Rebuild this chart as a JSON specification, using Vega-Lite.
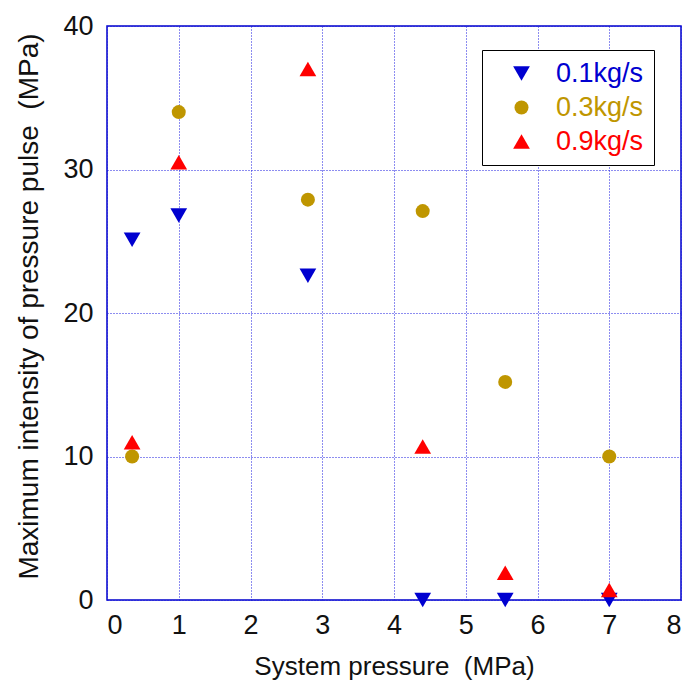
{
  "$schema": "https://vega.github.io/schema/vega-lite/v6.json",
  "width": 574,
  "height": 574,
  "padding": {"left": 107, "top": 26, "right": 10, "bottom": 87},
  "autosize": {"type": "none"},
  "background": "white",
  "config": {
    "view": {"stroke": "#0000cc", "strokeWidth": 1.5}
  },
  "data": {
    "values": [
      {"p": 0.35, "v": 25.1, "s": "0.1kg/s"},
      {"p": 1.0, "v": 26.8, "s": "0.1kg/s"},
      {"p": 2.8, "v": 22.6, "s": "0.1kg/s"},
      {"p": 4.4, "v": 0.0, "s": "0.1kg/s"},
      {"p": 5.55, "v": 0.0, "s": "0.1kg/s"},
      {"p": 7.0, "v": 0.0, "s": "0.1kg/s"},
      {"p": 0.35, "v": 10.0, "s": "0.3kg/s"},
      {"p": 1.0, "v": 34.0, "s": "0.3kg/s"},
      {"p": 2.8, "v": 27.9, "s": "0.3kg/s"},
      {"p": 4.4, "v": 27.1, "s": "0.3kg/s"},
      {"p": 5.55, "v": 15.2, "s": "0.3kg/s"},
      {"p": 7.0, "v": 10.0, "s": "0.3kg/s"},
      {"p": 0.35, "v": 11.0, "s": "0.9kg/s"},
      {"p": 1.0, "v": 30.5, "s": "0.9kg/s"},
      {"p": 2.8, "v": 37.0, "s": "0.9kg/s"},
      {"p": 4.4, "v": 10.7, "s": "0.9kg/s"},
      {"p": 5.55, "v": 1.9, "s": "0.9kg/s"},
      {"p": 7.0, "v": 0.7, "s": "0.9kg/s"}
    ]
  },
  "mark": {"type": "point", "filled": true, "opacity": 1},
  "encoding": {
    "x": {
      "field": "p",
      "type": "quantitative",
      "scale": {"domain": [0, 8], "nice": false, "zero": false},
      "axis": {
        "values": [0, 1, 2, 3, 4, 5, 6, 7, 8],
        "title": "System pressure \u00a0(MPa)",
        "grid": true, "gridColor": "#1a1ae0", "gridDash": [1, 2], "gridWidth": 1,
        "domain": false, "ticks": false,
        "labelFont": "Liberation Sans", "labelFontSize": 27, "labelColor": "#111111", "labelPadding": 12,
        "titleFont": "Liberation Sans", "titleFontSize": 26, "titleFontWeight": "normal", "titleColor": "#111111",
        "titlePadding": 15
      }
    },
    "y": {
      "field": "v",
      "type": "quantitative",
      "scale": {"domain": [0, 40], "nice": false},
      "axis": {
        "values": [0, 10, 20, 30, 40],
        "title": "Maximum intensity of pressure pulse \u00a0(MPa)",
        "grid": true, "gridColor": "#1a1ae0", "gridDash": [1, 2], "gridWidth": 1,
        "domain": false, "ticks": false,
        "labelFont": "Liberation Sans", "labelFontSize": 27, "labelColor": "#111111", "labelPadding": 14,
        "titleFont": "Liberation Sans", "titleFontSize": 28, "titleFontWeight": "normal", "titleColor": "#111111",
        "titlePadding": 19,
        "titleY": 280
      }
    },
    "color": {
      "field": "s",
      "type": "nominal",
      "scale": {"domain": ["0.1kg/s", "0.3kg/s", "0.9kg/s"], "range": ["#0000d0", "#bf9600", "#ff0000"]},
      "legend": {
        "title": null,
        "orient": "none",
        "legendX": 375,
        "legendY": 24,
        "strokeColor": "#000000",
        "fillColor": "white",
        "padding": 10,
        "labelFontSize": 27,
        "labelFont": "Liberation Sans",
        "labelColor": {"expr": "datum.value == '0.1kg/s' ? '#0000d0' : datum.value == '0.3kg/s' ? '#bf9600' : '#ff0000'"},
        "symbolSize": 190,
        "rowPadding": 6,
        "labelOffset": 21,
        "symbolOffset": 16,
        "offset": 0,
        "encode": {
          "legend": {"update": {"strokeWidth": {"value": 2.5}}}
        }
      }
    },
    "shape": {
      "field": "s",
      "type": "nominal",
      "scale": {"domain": ["0.1kg/s", "0.3kg/s", "0.9kg/s"], "range": ["triangle-down", "circle", "triangle-up"]},
      "legend": null
    },
    "size": {
      "field": "s",
      "type": "nominal",
      "scale": {"type": "ordinal", "domain": ["0.1kg/s", "0.3kg/s", "0.9kg/s"], "range": [280, 196, 280]},
      "legend": null
    }
  }
}
